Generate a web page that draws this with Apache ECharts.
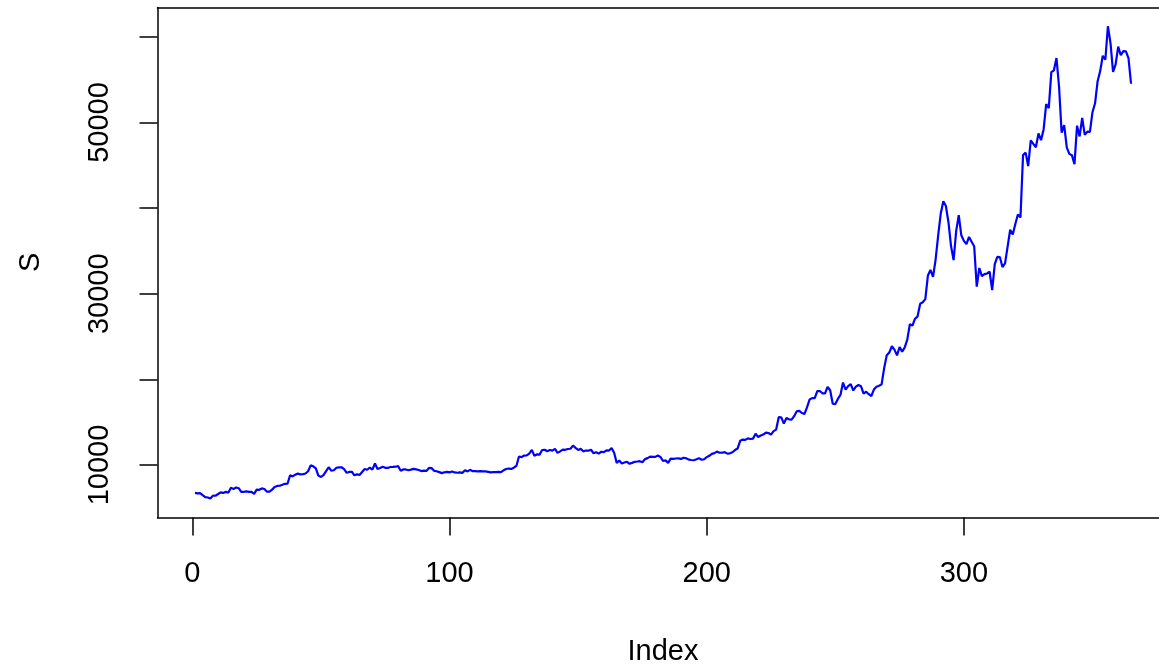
<!DOCTYPE html>
<html>
<head>
<meta charset="utf-8">
<script src="https://cdn.jsdelivr.net/npm/echarts@6/dist/echarts.min.js"></script>
<style>
  html, body { margin: 0; padding: 0; background: #fff; }
  #chart { width: 1159px; height: 666px; }
</style>
</head>
<body>
<div id="chart"></div>
<script>
// Daily closing values S, one per index (365 days)
const marApr2020 = [6734, 6681, 6716, 6469, 6243, 6200, 6080, 6417, 6400,
  6606, 6794, 6734, 6857, 6772, 7329, 7198, 7361, 7284, 6858, 6866, 6914, 6865, 6859, 6623,
  7117, 7097, 7258, 7190, 6882, 6880, 7117, 7430, 7551, 7570, 7680, 7795, 7807, 8801, 8658];
const may2020 = [8864, 8988, 8897, 8912, 9003, 9268, 9951, 9842, 9593, 8756, 8601, 8804, 9269,
  9733, 9328, 9377, 9670, 9726, 9729, 9522, 9081, 9182, 9209, 8791, 8906, 8835, 9181, 9525,
  9439, 9700, 9461];
const jun2020 = [10167, 9529, 9656, 9800, 9665, 9653, 9758, 9771, 9795, 9870, 9321, 9480, 9475,
  9386, 9450, 9538, 9480, 9411, 9288, 9332, 9303, 9648, 9629, 9313, 9264, 9162, 9045, 9143,
  9190, 9137];
const jul2020 = [9228, 9123, 9087, 9132, 9073, 9375, 9252, 9428, 9277, 9278, 9240, 9276, 9243,
  9243, 9192, 9132, 9151, 9159, 9185, 9164, 9374, 9525, 9581, 9536, 9677, 9905, 10990, 10912,
  11100, 11111, 11323];
const aug2020 = [11759, 11053, 11246, 11205, 11747, 11779, 11601, 11754, 11675, 11878, 11411,
  11585, 11784, 11768, 11865, 11893, 12254, 11991, 11758, 11879, 11592, 11682, 11664, 11774,
  11366, 11488, 11324, 11542, 11506, 11711, 11680];
const sep2020 = [11970, 11414, 10245, 10511, 10169, 10280, 10370, 10131, 10242, 10363, 10400,
  10442, 10323, 10680, 10796, 10974, 10948, 10944, 11094, 10938, 10462, 10538, 10247, 10746,
  10702, 10755, 10775, 10709, 10844, 10784];
const oct2020 = [10619, 10576, 10549, 10669, 10793, 10604, 10668, 10915, 11065, 11296, 11385,
  11556, 11426, 11430, 11505, 11322, 11359, 11484, 11742, 11916, 12823, 12966, 12931, 13108,
  13031, 13075, 13654, 13271, 13437, 13547, 13781];
const nov2020 = [13737, 13550, 13950, 14133, 15579, 15565, 14833, 15479, 15332, 15290, 15701,
  16276, 16318, 16068, 15955, 16716, 17645, 17804, 17817, 18621, 18642, 18370, 18364, 19107,
  18732, 17150, 17108, 17717, 18177, 19625];
const dec2020 = [18802, 19201, 19445, 18699, 19154, 19345, 19191, 18321, 18553, 18264, 18058,
  18803, 19142, 19246, 19417, 21310, 22805, 23137, 23869, 23477, 22803, 23783, 23241, 23736,
  24664, 26437, 26272, 27084, 27362, 28840, 29001];
const jan2021 = [29374, 32127, 32782, 31971, 33992, 36824, 39371, 40797, 40254, 38356, 35566,
  33922, 37316, 39187, 36825, 36178, 35791, 36630, 36069, 35547, 30825, 33005, 32067, 32289,
  32366, 32569, 30432, 33466, 34316, 34269, 33114];
const feb2021 = [33538, 35510, 37473, 36926, 38144, 39266, 38903, 46196, 46481, 44919, 47909,
  47504, 47105, 48717, 47945, 49199, 52149, 51679, 55888, 56099, 57539, 54207, 48824, 49705,
  47093, 46339, 46188, 45137];
const mar2021 = [49631, 48378, 50538, 48561, 48927, 48912, 51206, 52246, 54824, 56008, 57805,
  57332, 61243, 59302, 55907, 56804, 58870, 57858, 58346, 58313, 57524, 54529];

const S = [].concat(marApr2020, may2020, jun2020, jul2020, aug2020, sep2020, oct2020,
  nov2020, dec2020, jan2021, feb2021, mar2021);

// Tick positions and labels
const xTicks = [0, 100, 200, 300];
const yTicks = [10000, 20000, 30000, 40000, 50000, 60000];
const yLabels = [10000, 30000, 50000];

// Axis ranges: 4% padding around the data on both axes
const n = S.length;
const xPad = (n - 1) * 0.04;
const yMin = Math.min(...S), yMax = Math.max(...S);
const yPad = (yMax - yMin) * 0.04;

const points = S.map((v, i) => [i + 1, v]);

const font = 'Liberation Sans, Arial, Helvetica, sans-serif';
const fontSize = 29;
const black = { color: '#000', width: 1.5 };
const plain = v => String(v);

const chart = echarts.init(document.getElementById('chart'), null, { renderer: 'canvas' });

chart.setOption({
  backgroundColor: '#ffffff',
  animation: false,
  grid: {
    show: false,
    outerBoundsMode: 'none',
    containLabel: false,
    left: 157.5,
    top: 7.4,
    width: 1011,
    height: 510
  },
  xAxis: [{
    type: 'value',
    position: 'bottom',
    min: 1 - xPad,
    max: n + xPad,
    name: 'Index',
    nameLocation: 'middle',
    nameGap: 120,
    nameTextStyle: { color: '#000', fontSize: fontSize, fontFamily: font },
    axisLine: { show: true, onZero: false, lineStyle: black },
    splitLine: { show: false },
    axisTick: {
      show: true, inside: false, length: 18,
      customValues: xTicks,
      lineStyle: black
    },
    axisLabel: {
      customValues: xTicks,
      formatter: plain,
      margin: 42,
      color: '#000', fontSize: fontSize, fontFamily: font
    }
  }, {
    // top edge of the plot box
    type: 'value',
    position: 'top',
    min: 1 - xPad,
    max: n + xPad,
    axisLine: { show: true, onZero: false, lineStyle: black },
    axisTick: { show: false },
    axisLabel: { show: false },
    splitLine: { show: false }
  }],
  yAxis: {
    type: 'value',
    position: 'left',
    min: yMin - yPad,
    max: yMax + yPad,
    name: 'S',
    nameLocation: 'middle',
    nameRotate: 90,
    nameGap: 112,
    nameTextStyle: { color: '#000', fontSize: fontSize, fontFamily: font },
    axisLine: { show: true, onZero: false, lineStyle: black },
    splitLine: { show: false },
    axisTick: {
      show: true, inside: false, length: 18,
      customValues: yTicks,
      lineStyle: black
    },
    axisLabel: {
      customValues: yLabels,
      formatter: plain,
      rotate: 90,
      margin: 43,
      color: '#000', fontSize: fontSize, fontFamily: font
    }
  },
  series: [{
    type: 'line',
    xAxisIndex: 0,
    data: points,
    showSymbol: false,
    symbol: 'none',
    lineStyle: { color: '#0000ff', width: 2.2 }
  }]
});
</script>
</body>
</html>
